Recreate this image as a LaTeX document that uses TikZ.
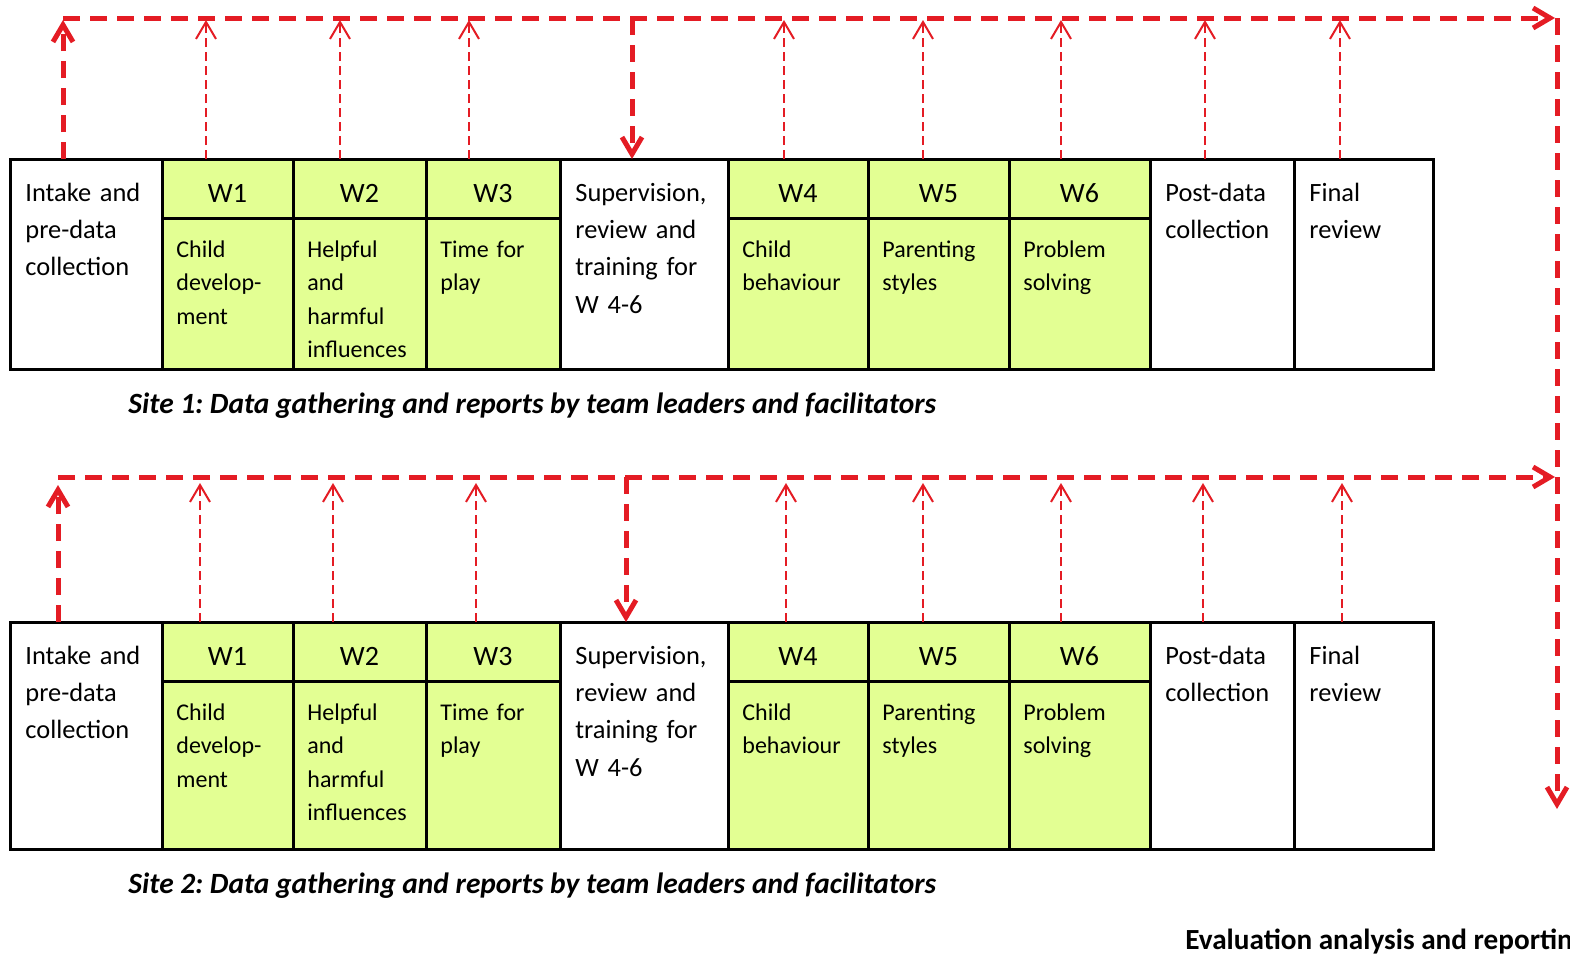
\documentclass[tikz,border=0pt]{standalone}
\usepackage{fontspec}
\setmainfont{Carlito}
\usetikzlibrary{arrows.meta,calc}

\definecolor{flowred}{RGB}{228,28,36}
\definecolor{weekgreen}{RGB}{227,255,147}

\tikzset{
  cellbox/.style={draw=black, line width=1.5pt, rectangle, anchor=north west,
                  inner sep=0pt, outer sep=0pt},
  celltext/.style={anchor=base west, inner sep=0pt, align=left, text width=80pt,
                   font=\fontsize{13.2}{18.7}\selectfont},
  bodytext/.style={anchor=base west, inner sep=0pt, align=left, text width=60pt,
                   font=\fontsize{12}{16.75}\selectfont},
  headtext/.style={anchor=base, inner sep=0pt, font=\fontsize{14}{16}\selectfont},
  captext/.style={anchor=base west, inner sep=0pt,
                  font=\fontsize{14.7}{17}\selectfont\bfseries\itshape},
  evaltext/.style={anchor=base west, inner sep=0pt,
                   font=\fontsize{14.6}{17}\selectfont\bfseries},
  thickflow/.style={draw=flowred, line width=2.5pt, dash pattern=on 8.5pt off 5pt,
                    -{Straight Barb[length=8.5pt,width=10pt]}},
  thinflow/.style={draw=flowred, line width=1pt, dash pattern=on 4.5pt off 2.5pt,
                   -{Straight Barb[length=8.5pt,width=10pt]}},
}

% One row of the programme: #1 name prefix, #2 top, #3 bottom of week headers, #4 bottom
\newcommand\programmerow[4]{%
  \foreach \n/\xa/\xb/\txt in {in/10/162/{Intake and\\pre-data\\collection},
                               sup/560/728/{Supervision,\\review and\\training for\\W 4-6},
                               post/1150/1294/{Post-data\\collection},
                               fin/1294/1433/{Final\\review}}{%
    \node[cellbox, fill=white, minimum width={(\xb-\xa)*0.5pt},
          minimum height={(#4-#2)*0.5pt}] (#1-\n) at (\xa,#2) {};
    \node[celltext] (#1-\n-t) at ($(#1-\n.north west)+(15,42)$) {\txt};
  }%
  \foreach \n/\xa/\xb/\lab/\txt in {w1/162/293/W1/{Child\\develop-\\ment},
                                    w2/293/426/W2/{Helpful\\and\\harmful\\influences},
                                    w3/426/560/W3/{Time for\\play},
                                    w4/728/868/W4/{Child\\behaviour},
                                    w5/868/1009/W5/{Parenting\\styles},
                                    w6/1009/1150/W6/{Problem\\solving}}{%
    \node[cellbox, fill=weekgreen, minimum width={(\xb-\xa)*0.5pt},
          minimum height={(#3-#2)*0.5pt}] (#1-\n-h) at (\xa,#2) {};
    \node[cellbox, fill=weekgreen, minimum width={(\xb-\xa)*0.5pt},
          minimum height={(#4-#3)*0.5pt}] (#1-\n-b) at (\xa,#3) {};
    \node[headtext] (#1-\n-l) at ($(#1-\n-h.north)+(0,43)$) {\lab};
    \node[bodytext] (#1-\n-t) at ($(#1-\n-b.north west)+(14,39)$) {\txt};
  }%
}

\begin{document}
\frenchspacing
\begin{tikzpicture}[x=0.5pt, y=-0.5pt]
  \useasboundingbox (0,0) rectangle (1570,958);

  % rows of sessions
  \programmerow{a}{159}{218}{369}
  \programmerow{b}{622}{681}{849}

  % report lines and the path to the evaluation
  \coordinate (a-line) at (0,18);
  \coordinate (b-line) at (0,477);
  \coordinate (rt) at (1557,18);
  \coordinate (rend) at (1557,809);

  % site 1 flow
  \draw[thickflow] ([xshift=26.5pt]a-in.north west) coordinate (a-s) -- ([yshift=-1pt]a-s |- a-line);
  \draw[thickflow] (a-s |- a-line) -- ([xshift=-1pt]rt);
  \draw[thickflow] ([xshift=36pt]a-sup.north west) coordinate (a-d)
        (a-d |- a-line) -- (a-d);
  \foreach \c/\dx in {w1-h/44, w2-h/47, w3-h/43, w4-h/56, w5-h/55, w6-h/52, post/55, fin/46}
    \draw[thinflow] ([xshift=\dx*0.5pt]a-\c.north west) coordinate (p) -- ([yshift=-1pt]p |- a-line);

  % site 2 flow
  \draw[thickflow] ([xshift=24pt]b-in.north west) coordinate (b-s) -- ([yshift=-4pt]b-s |- b-line);
  \draw[thickflow] (b-s |- b-line) -- ([xshift=-1pt]rt |- b-line);
  \draw[thickflow] ([xshift=33pt]b-sup.north west) coordinate (b-d)
        (b-d |- b-line) -- (b-d);
  \foreach \c/\dx in {w1-h/38, w2-h/40, w3-h/50, w4-h/58, w5-h/55, w6-h/52, post/53, fin/48}
    \draw[thinflow] ([xshift=\dx*0.5pt]b-\c.north west) coordinate (p) -- ([yshift=-3pt]p |- b-line);

  % right-hand line down to the evaluation
  \draw[thickflow] (rt) -- (rend);

  % captions
  \node[captext] (cap1) at (128,413) {Site 1: Data gathering and reports by team leaders and facilitators};
  \node[captext] (cap2) at (128,893) {Site 2: Data gathering and reports by team leaders and facilitators};
  \node[evaltext] (eval) at (1185,949) {Evaluation analysis and reporting};
\end{tikzpicture}
\end{document}
